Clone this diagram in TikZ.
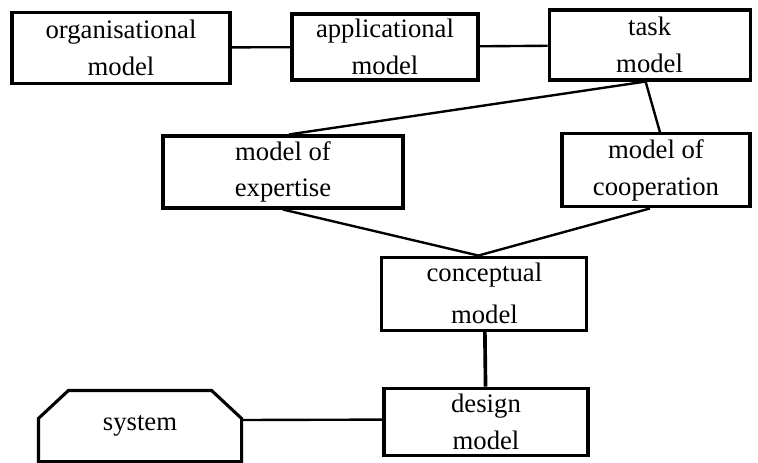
\documentclass[tikz,border=0pt]{standalone}
\usepackage{fontspec}
\setmainfont{Liberation Serif}
\usepackage{tikz}

\begin{document}
\begin{tikzpicture}
            [thick,every node/.style={draw,line width=2.2pt,align=center,inner sep=2pt,
             font=\fontsize{19}{26}\selectfont}]
            \useasboundingbox (0,0) rectangle (18.95,-11.575);
            \node[minimum width=5.45cm,minimum height=1.775cm] (orga) at (3.025,-1.19) {organisational\\model};
            \node[minimum width=4.65cm,minimum height=1.65cm] (appl) at (9.625,-1.175) {applicational\\model};
            \node[minimum width=5.025cm,minimum height=1.75cm] (task) at (16.24,-1.125) {task\\model};
            \node[minimum width=6cm,minimum height=1.8cm] (expe) at (7.075,-4.3) {model of\\expertise};
            \node[minimum width=4.7cm,minimum height=1.825cm] (coop) at (16.4,-4.26) {model of\\cooperation};
            \node[minimum width=5.125cm,minimum height=1.825cm,font=\fontsize{19}{30}\selectfont] (conc) at (12.11,-7.34) {conceptual\\model};
            \node[minimum width=5.1cm,minimum height=1.675cm] (desi) at (12.15,-10.54) {design\\model};
            \node[draw=none,minimum width=5cm,minimum height=1.7cm] (syst) at (3.5,-10.65) {system};
            % the system outline
            \draw[line width=2.2pt] ([yshift=-0.7cm]syst.north west) -- ([xshift=0.75cm]syst.north west)
                -- ([xshift=-0.75cm]syst.north east) -- ([yshift=-0.7cm]syst.north east)
                -- (syst.south east) -- (syst.south west) -- cycle;
            % the links
            \draw[line width=1.7pt] (orga) -- (appl);
            \draw[line width=1.7pt] (appl) -- (task);
            \draw[line width=1.7pt] ([xshift=-0.1cm]task.south) -- ([xshift=0.15cm]expe.north);
            \draw[line width=1.7pt] ([xshift=-0.1cm]task.south) -- ([xshift=0.1cm]coop.north);
            \draw[line width=1.7pt] (expe.south) -- ([xshift=-0.15cm]conc.north);
            \draw[line width=1.7pt] ([xshift=-0.15cm]coop.south) -- ([xshift=-0.15cm]conc.north);
            \draw[line width=2.6pt] (conc) -- (desi);
            \draw[line width=1.7pt] ([yshift=0.15cm]syst.east) -- ([yshift=0.05cm]desi.west);
        \end{tikzpicture}
\end{document}
